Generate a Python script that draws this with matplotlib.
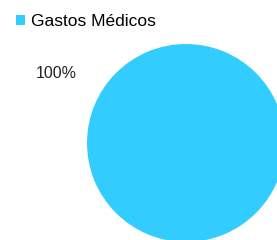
import matplotlib
matplotlib.use("Agg")
import matplotlib.pyplot as plt

categories = ["Gastos Médicos"]
values = [100]
colors = ["#33CCFF"]

plt.rcParams['font.family'] = ['Liberation Sans', 'DejaVu Sans']

fig = plt.figure(figsize=(2.77, 2.40), dpi=100)
ax = fig.add_axes([0, 0, 1, 1])

wedges, texts, autotexts = ax.pie(values, colors=colors, center=(186, 97), radius=99,
                                  startangle=-28, autopct='%1.0f%%', pctdistance=1.49,
                                  textprops={'fontsize': 11.5, 'color': '#222222'},
                                  frame=True)
ax.set_xlim(0, 277)
ax.set_ylim(0, 240)
ax.set_aspect('equal')
ax.axis('off')

ax.legend(wedges, categories, loc='upper left', bbox_to_anchor=(0.045, 0.955),
          frameon=False, fontsize=12.5, handlelength=0.55, handleheight=0.55,
          handletextpad=0.3, borderaxespad=0, borderpad=0.2)

fig.savefig("out.png", dpi=100)
